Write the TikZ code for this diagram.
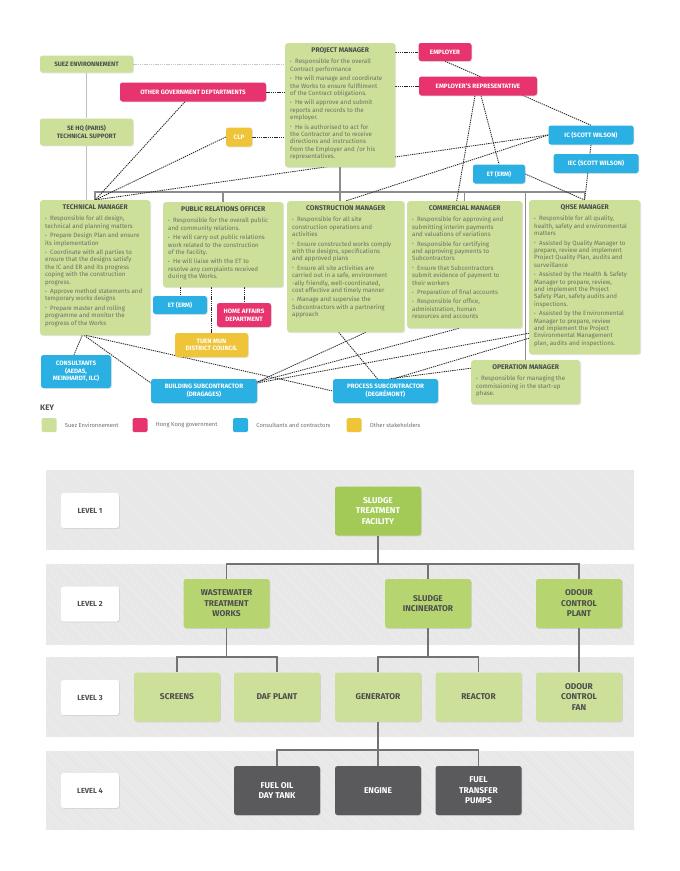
\documentclass[tikz,border=0pt]{standalone}
\usepackage{fontspec}
\setmainfont{Fira Sans}
\usepackage{tikz}
\usetikzlibrary{positioning}
\usetikzlibrary{shadows}
\usetikzlibrary{backgrounds}

\definecolor{suezgreen}{RGB}{204,224,153}
\definecolor{topgreen}{RGB}{163,202,86}
\definecolor{midgreen}{RGB}{182,213,112}
\definecolor{hkpink}{RGB}{232,52,110}
\definecolor{conblue}{RGB}{42,176,226}
\definecolor{stakeyellow}{RGB}{240,196,56}
\definecolor{boxgrey}{RGB}{90,90,92}
\definecolor{titlegrey}{RGB}{77,77,79}
\definecolor{bodygrey}{RGB}{108,112,102}
\definecolor{bandgrey}{RGB}{240,240,240}

\newcommand{\bodyfont}{\mdseries\fontsize{6.2}{7.4}\selectfont}
\newcommand{\headfont}{\bfseries\fontsize{6.8}{8}\selectfont}
\newcommand{\bul}{\par\vspace{2pt}\hangindent=5pt\hangafter=1\noindent\makebox[5pt][l]{\raisebox{0.5pt}{\scalebox{0.8}{\textbullet}}}}
\newcommand{\mgrtext}[4]{\parbox[t][#2pt][t]{#1pt}{\centering{\headfont\color{titlegrey}#3\par}\vspace{2.5pt}\raggedright\bodyfont#4}}

\tikzset{
  box/.style={rounded corners=2.5pt, inner sep=0pt, align=center,
    drop shadow={opacity=0.22, shadow xshift=0.8pt, shadow yshift=-0.8pt},
    font=\bfseries\fontsize{6.3}{7.6}\selectfont},
  suez/.style={box, fill=suezgreen, text=titlegrey},
  gov/.style={box, fill=hkpink, text=white},
  con/.style={box, fill=conblue, text=white},
  other/.style={box, fill=stakeyellow, text=white},
  mgr/.style={suez, anchor=north west, inner xsep=5pt, inner ysep=4pt, align=left, text=bodygrey},
  link/.style={line width=0.85pt, dash pattern=on 1.3pt off 0.9pt, black!85},
  faint/.style={line width=0.85pt, dash pattern=on 1.3pt off 0.9pt, black!22},
  thinline/.style={line width=0.7pt, black!25},
  bar/.style={line width=1.5pt, black!45},
  tree/.style={line width=1.1pt, black!55},
  hatch/.style={line width=0.5pt, black!13},
  lvlab/.style={box, fill=white, text=titlegrey, minimum width=58pt, minimum height=35pt, font=\bfseries\fontsize{7.4}{9}\selectfont},
  lvbox/.style={box, minimum width=86pt, minimum height=49pt, font=\bfseries\fontsize{8.4}{10.5}\selectfont},
  lvone/.style={lvbox, fill=topgreen, text=white},
  lvtwo/.style={lvbox, fill=midgreen, text=titlegrey},
  lvthree/.style={lvbox, fill=suezgreen, text=titlegrey},
  lvfour/.style={lvbox, fill=boxgrey, text=white},
  keysq/.style={rounded corners=1.5pt, minimum width=15pt, minimum height=14pt, inner sep=0pt},
  keytxt/.style={font=\fontsize{5.8}{7}\selectfont, text=bodygrey, inner sep=0pt}
}

\begin{document}
\begin{tikzpicture}[x=1pt, y=-1pt]
\useasboundingbox (0,0) rectangle (680,871);

% organisation chart
\node[suez, minimum width=93pt, minimum height=17pt] (suez) at (86.5,64) {SUEZ ENVIRONNEMENT};
\node[suez, minimum width=93pt, minimum height=27pt] (sehq) at (86.5,132) {SE HQ (PARIS)\\TECHNICAL SUPPORT};
\node[gov, minimum width=146pt, minimum height=19pt] (ogd) at (193,92) {OTHER GOVERNMENT DEPTARTMENTS};
\node[other, minimum width=26pt, minimum height=19pt] (clp) at (239,137) {CLP};
\node[gov, minimum width=53pt, minimum height=18pt] (emp) at (445,52) {EMPLOYER};
\node[gov, minimum width=118pt, minimum height=19pt] (er) at (478,86) {EMPLOYER'S REPRESENTATIVE};
\node[con, minimum width=85pt, minimum height=19pt] (ic) at (591,135) {IC (SCOTT WILSON)};
\node[con, minimum width=85pt, minimum height=19pt] (iec) at (596,163.5) {IEC (SCOTT WILSON)};
\node[con, minimum width=52pt, minimum height=19pt] (etu) at (499,174) {ET (ERM)};

\node[mgr] (pm) at (285,43) {\mgrtext{100}{116}{PROJECT MANAGER}{%
\bul Responsible for the overall\\Contract performance
\bul He will manage and coordinate\\the Works to ensure fullfilment\\of the Contract obligations.
\bul He will approve and submit\\reports and records to the\\employer.
\bul He is authorised to act for\\the Contractor and to receive\\directions and instructions\\from the Employer and /or his\\representatives.}};

\node[mgr] (tm) at (40,200) {\mgrtext{100}{127}{TECHNICAL MANAGER}{%
\bul Responsible for all design,\\technical and planning matters
\bul Prepare Design Plan and ensure\\its implementation
\bul Coordinate with all parties to\\ensure that the designs satisfy\\the IC and ER and its progress\\coping with the construction\\progress.
\bul Approve method statements and\\temporary works designs
\bul Prepare master and rolling\\programme and monitor the\\progress of the Works}};

\node[mgr] (pr) at (163,202) {\mgrtext{110}{77}{PUBLIC RELATIONS OFFICER}{%
\bul Responsible for the overall public\\and community relations.
\bul He will carry out public relations\\work related to the construction\\of the Facility.
\bul He will liaise with the ET to\\resolve any complaints received\\during the Works.}};

\node[mgr] (cm) at (287,201) {\mgrtext{107}{123}{CONSTRUCTION MANAGER}{%
\bul Responsible for all site\\construction operations and\\activities
\bul Ensure constructed works comply\\with the designs, specifications\\and approved plans
\bul Ensure all site activities are\\carried out in a safe, environment\\-ally friendly, well-coordinated,\\cost effective and timely manner
\bul Manage and supervise the\\Subcontractors with a partnering\\approach}};

\node[mgr] (com) at (407,201) {\mgrtext{105}{119}{COMMERCIAL MANAGER}{%
\bul Responsible for approving and\\submitting interim payments\\and valuations of variations
\bul Responsible for certifying\\and approving payments to\\Subcontractors
\bul Ensure that Subcontractors\\submit evidence of payment to\\their workers
\bul Preparation of final accounts
\bul Responsible for office,\\administration, human\\resources and accounts}};

\node[mgr] (qhse) at (529,200) {\mgrtext{101}{146}{QHSE MANAGER}{%
\bul Responsible for all quality,\\health, safety and environmental\\matters
\bul Assisted by Quality Manager to\\prepare, review and implement\\Project Quality Plan, audits and\\surveillance
\bul Assisted by the Health \& Safety\\Manager to prepare, review,\\and implement the Project\\Safety Plan, safety audits and\\inspections.
\bul Assisted by the Environmental\\Manager to prepare, review\\and implement the Project\\Environmental Management\\plan, audits and inspections.}};

\node[mgr] (om) at (471,360) {\mgrtext{99}{36}{OPERATION MANAGER}{%
\bul Responsible for managing the\\commissioning in the start-up\\phase.}};

\node[con, minimum width=54pt, minimum height=18pt] (etl) at (180,305) {ET (ERM)};
\node[gov, minimum width=54pt, minimum height=24pt] (ha) at (244,315) {HOME AFFAIRS\\DEPARTMENT};
\node[other, minimum width=73pt, minimum height=24pt] (tmdc) at (211.5,345) {TUEN MUN\\DISTRICT COUNCIL};
\node[con, minimum width=70pt, minimum height=33pt] (cons) at (76,371.5) {CONSULTANTS\\(AEDAS,\\MEINHARDT, ILC)};
\node[con, minimum width=106pt, minimum height=24pt] (bsc) at (204,391) {BUILDING SUBCONTRACTOR\\(DRAGAGES)};
\node[con, minimum width=105pt, minimum height=24pt] (psc) at (385.5,391) {PROCESS SUBCONTRACTOR\\(DEGRÉMONT)};

% key
\node[anchor=west, inner sep=0pt, font=\bfseries\fontsize{8}{9}\selectfont, text=titlegrey] (key) at (40,408) {KEY};
\node[keysq, fill=suezgreen] (k1) at (49,425) {};
\node[keytxt, right=8pt of k1] (k1t) {Suez Environnement};
\node[keysq, fill=hkpink] (k2) at (140,425) {};
\node[keytxt, right=8pt of k2] (k2t) {Hong Kong government};
\node[keysq, fill=conblue] (k3) at (240.5,425) {};
\node[keytxt, right=8pt of k3] (k3t) {Consultants and contractors};
\node[keysq, fill=stakeyellow] (k4) at (354,425) {};
\node[keytxt, right=8pt of k4] (k4t) {Other stakeholders};

% asset levels
\node[lvlab] (lv1) at (90,510.5) {LEVEL 1};
\node[lvlab] (lv2) at (90,604) {LEVEL 2};
\node[lvlab] (lv3) at (90,697.5) {LEVEL 3};
\node[lvlab] (lv4) at (90,790.5) {LEVEL 4};

\node[lvone] (stf) at (378,511) {SLUDGE\\TREATMENT\\FACILITY};
\node[lvtwo] (wtw) at (226.5,603.5) {WASTEWATER\\TREATMENT\\WORKS};
\node[lvtwo] (si) at (428,603.5) {SLUDGE\\INCINERATOR};
\node[lvtwo] (ocp) at (579,603.5) {ODOUR\\CONTROL\\PLANT};
\node[lvthree] (scr) at (177,697) {SCREENS};
\node[lvthree] (daf) at (277,697) {DAF PLANT};
\node[lvthree] (gen) at (378,697) {GENERATOR};
\node[lvthree] (rea) at (478.5,697) {REACTOR};
\node[lvthree] (ocf) at (579,697) {ODOUR\\CONTROL\\FAN};
\node[lvfour] (fot) at (277,790.5) {FUEL OIL\\DAY TANK};
\node[lvfour] (eng) at (378,790.5) {ENGINE};
\node[lvfour] (ftp) at (478.5,790.5) {FUEL\\TRANSFER\\PUMPS};

\coordinate (bary) at (0,192);
\coordinate (b1) at (0,564);
\coordinate (b2) at (0,657);
\coordinate (b3) at (0,750);

\begin{scope}[on background layer]
  \fill[white] (0,0) rectangle (680,871);
  % hatched level bands
  \foreach \top/\bot in {470/550, 564/645, 657/737, 751/830} {
    \begin{scope}
      \clip (46,\top) rectangle (634,\bot);
      \fill[bandgrey] (46,\top) rectangle (634,\bot);
      \foreach \x in {-40,-37.6,...,636}
        \draw[hatch] (\x,\top) -- ++(\bot-\top,\bot-\top);
    \end{scope}
  }

  % reporting lines
  \draw[bar] (tm.north) |- (bary -| qhse.north) -- (qhse.north);
  \draw[bar] (pm.south) -- (pm.south |- cm.north);
  \draw[bar] (bary -| pr.north) -- (pr.north);
  \draw[bar] (bary -| com.north) -- (com.north);
  \draw[bar] (bary -| om.north) -- (om.north);
  \draw[thinline] (suez.south) -- (sehq.north);
  \draw[thinline] (sehq.south) -- (sehq.south |- tm.north);

  % liaison lines
  \draw[faint] (suez.east) -- (suez.east -| pm.west);
  \draw[link] (ogd.east) -- (ogd.east -| pm.west);
  \draw[link] (clp.east) -- (clp.east -| pm.west);
  \draw[link] (emp.west -| pm.east) -- (emp.west);
  \draw[link] (er.west -| pm.east) -- (er.west);
  \draw[link] ([xshift=-8pt]ogd.south) -- (tm.north);
  \draw[link] (clp.west) -- (tm.north);
  \draw[link] (ic.west) -- (tm.north);
  \draw[link] (ic.west) -- (cm.north);
  \draw[link] (emp.south) -- (ic.north);
  \draw[link] ([xshift=-3pt]er.south) -- ([xshift=-8pt]com.north);
  \draw[link] ([xshift=3pt]er.south) -- (etu.north);
  \draw[link] (ic.south) -- (qhse.north);
  \draw[link] (etu.east) -- (qhse.north);
  \draw[link] (etl.north |- pr.south) -- (etl.north);
  \draw[link] (tmdc.north |- pr.south) -- (tmdc.north);
  \draw[link] (ha.north |- pr.south) -- (ha.north);
  \draw[link] ([xshift=-13pt]tm.south) -- ([xshift=-2pt]cons.north);
  \draw[link] ([xshift=-11pt]tm.south) -- ([yshift=8pt]bsc.west);
  \draw[link] ([xshift=-9pt]tm.south) -- (psc.west);
  \draw[link] ([xshift=-7pt]cm.south) -- ([xshift=-8pt]psc.north);
  \draw[link] ([xshift=20pt]cm.south) -- ([yshift=9pt]bsc.east);
  \draw[link] ([xshift=-6pt]com.south) -- ([yshift=9pt]bsc.east);
  \draw[link] ([yshift=-56pt]qhse.west) -- ([yshift=8pt]bsc.east);
  \draw[link] ([yshift=-61pt]qhse.west) -- ([xshift=8pt]psc.north);
  \draw[link] ([yshift=14pt]om.west) -- ([xshift=4pt]psc.north);

  % asset tree
  \draw[tree] (stf.south) -- (stf.south |- b1);
  \draw[tree] (wtw.north) |- (b1 -| ocp.north) -- (ocp.north);
  \draw[tree] (si.north) -- (si.north |- b1);
  \draw[tree] (wtw.south) -- (wtw.south |- b2);
  \draw[tree] (scr.north) |- (b2 -| daf.north) -- (daf.north);
  \draw[tree] (si.south) -- (si.south |- b2);
  \draw[tree] (gen.north) |- (b2 -| rea.north) -- (rea.north);
  \draw[tree] (ocp.south) -- (ocf.north);
  \draw[tree] (gen.south) -- (eng.north);
  \draw[tree] (fot.north) |- (b3 -| ftp.north) -- (ftp.north);
\end{scope}
\end{tikzpicture}
\end{document}
